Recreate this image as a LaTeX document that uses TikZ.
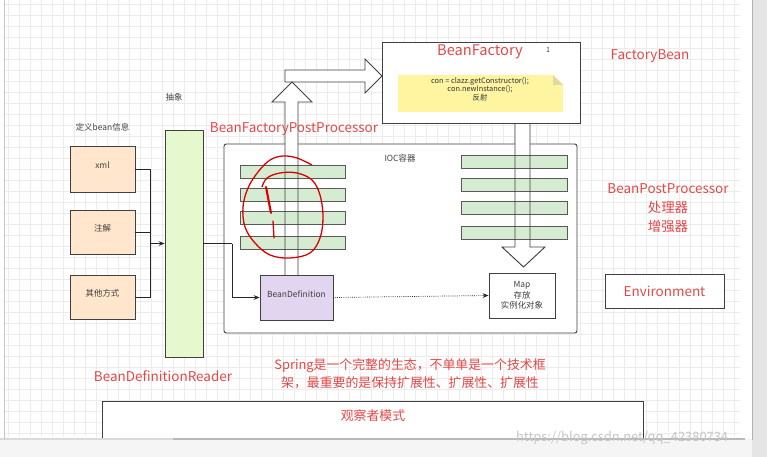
\documentclass[tikz,border=0pt]{standalone}
\usepackage{fontspec}
\setmainfont{Noto Sans CJK SC}
\usetikzlibrary{positioning, arrows.meta, fit}

\definecolor{sourcefill}{RGB}{255,230,204}
\definecolor{readerfill}{RGB}{230,248,206}
\definecolor{barfill}{RGB}{213,236,210}
\definecolor{deffill}{RGB}{225,213,240}
\definecolor{notefill}{RGB}{255,245,160}
\definecolor{notefold}{RGB}{225,218,160}
\definecolor{labelred}{RGB}{228,72,72}

\begin{document}
\begin{tikzpicture}[
    x=0.03cm, y=-0.03cm,    % 1単位 = 画面の1px
    >=Stealth,
    font=\fontsize{7.2}{8.6}\selectfont,
    % 箱の枠線
    box_line/.style={draw=black!75, line width=0.8pt},
    source_box/.style={box_line, fill=sourcefill, inner sep=0pt, text=black!75},
    reader_box/.style={box_line, fill=readerfill, inner sep=0pt},
    bar_box/.style={draw=black!65, line width=0.7pt, fill=barfill, inner sep=0pt},
    plain_box/.style={box_line, fill=white, inner sep=0pt, text=black!75},
    % 白抜きの太い矢印
    hollow_arrow/.style={draw=black!75, line width=0.8pt, line join=miter},
    red_label/.style={text=labelred, font=\fontsize{11.5}{14}\selectfont},
    small_label/.style={text=black!75},
    link/.style={draw=black!85, line width=0.6pt, -{Stealth[length=5pt, width=4pt]}},
    grid_line/.style={draw=gray!15, line width=0.3pt}
]

    % --- 1. 背景とグリッド ---
    \useasboundingbox (0,0) rectangle (767,457);
    \fill [white] (0,0) rectangle (767,457);
    \foreach \gx in {8,19,...,740}
        \draw [grid_line] (\gx,0) -- (\gx,437);
    \foreach \gy in {4,15,...,437}
        \draw [grid_line] (5,\gy) -- (740,\gy);

    % 画面の枠（右のバーと下のスクロールバー）
    \fill [gray!20] (752,0) rectangle (767,457);
    \draw [gray!60, line width=0.6pt] (752,0) -- (752,440);
    \fill [gray!8] (0,439) rectangle (752,457);
    \draw [gray!30, line width=1pt] (0,439) -- (173,439);
    \draw [gray!55, line width=1.6pt] (173,439) -- (745,439);
    \draw [gray!45, line width=0.5pt] (4,0) -- (4,439);

    % --- 2. 左側：定義元とReader ---
    \node [source_box, fit={(70,146) (135,192)}] (xml) {xml};
    \node [source_box, fit={(70,210) (135,254)}] (anno) {注解};
    \node [source_box, fit={(70,275) (135,319)}] (other) {其他方式};
    \node [small_label, above=9pt of xml] (define_label) {定义bean信息};

    \node [reader_box, fit={(165,130) (203,357)}] (reader) {};
    \node [small_label] (abstract_label) at (174,97) {抽象};

    \coordinate (merge) at (150,243.5);
    \draw [draw=black!85, line width=0.6pt] (xml.east) -| (merge);
    \draw [draw=black!85, line width=0.6pt] (anno.east) -| (merge);
    \draw [draw=black!85, line width=0.6pt] (other.east) -| (merge);
    \draw [link] (merge) -- (reader.west);

    % --- 3. IOC容器 ---
    \node [box_line, fill=white, rounded corners=2pt, fit={(224,144) (577,333)}, inner sep=0pt] (ioc) {};
    \node [small_label] (ioc_label) at (400,158) {IOC容器};

    % 矢印の塗り（バーの下に敷く）
    \fill [white] (285,275) -- (285,102) -- (272,102) -- (292,82)
        -- (312,102) -- (298,102) -- (298,275) -- cycle;
    \fill [white] (285,70) -- (365,70) -- (365,59) -- (382,76)
        -- (365,93) -- (365,82) -- (285,82) -- cycle;
    \fill [white] (515,123) -- (515,247) -- (502,247) -- (523.5,267)
        -- (545,247) -- (530,247) -- (530,123) -- cycle;

    % 左右のバー
    \foreach \ytop [count=\i] in {165,188,211,236}
        \node [bar_box, fit={(240,\ytop) (345,\ytop+13.5)}] (left_bar_\i) {};
    \foreach \ytop [count=\i] in {155,178,201,226}
        \node [bar_box, fit={(461,\ytop) (567,\ytop+13.5)}] (right_bar_\i) {};

    % 矢印の輪郭
    \draw [hollow_arrow] (285,275) -- (285,102) -- (272,102) -- (292,82)
        -- (312,102) -- (298,102) -- (298,275);
    \draw [hollow_arrow] (285,82) -- (285,70) -- (365,70) -- (365,59) -- (382,76)
        -- (365,93) -- (365,82) -- cycle;
    \draw [hollow_arrow] (515,123) -- (515,247) -- (502,247) -- (523.5,267)
        -- (545,247) -- (530,247) -- (530,123);

    \node [box_line, fill=deffill, fit={(260,275) (333,320)}, inner sep=0pt, text=black!75] (beandef) {BeanDefinition};
    \node [plain_box, fit={(489,273) (555,318)}] (map) {};
    \node [small_label, align=center, font=\fontsize{7.2}{9}\selectfont] (map_text) at (map.center) {Map\\存放\\实例化对象};

    \coordinate (bend) at (232,243.5);
    \draw [draw=black!85, line width=0.6pt] (reader.east) -- (bend);
    \draw [link] (bend) |- (beandef.west);
    \draw [link, densely dotted] (beandef.east) -- (map.west);

    % --- 4. BeanFactory ---
    \node [plain_box, fit={(382,42) (580,123)}] (factory) {};
    \node [red_label, font=\fontsize{12.5}{15}\selectfont] (factory_title) at (480,52) {BeanFactory};
    \node [small_label, font=\fontsize{6}{7}\selectfont] (factory_no) at (548,50) {1};

    \fill [notefill] (398,75) -- (553,75) -- (563,85) -- (563,112) -- (398,112) -- cycle;
    \fill [notefold] (553,75) -- (553,85) -- (563,85) -- cycle;
    \node [align=center, text=black!80, font=\fontsize{6.3}{7.2}\selectfont] (note_text) at (480,89)
        {con = clazz.getConstructor();\\con.newInstance();\\反射};

    % --- 5. 赤い説明ラベル ---
    \node [red_label] (post_label) at (294,129) {BeanFactoryPostProcessor};
    \node [red_label] (factorybean_label) at (650,56) {FactoryBean};
    \node [red_label, align=center, font=\fontsize{11.5}{16}\selectfont] (bpp_label) at (668,208)
        {BeanPostProcessor\\处理器\\增强器};
    \node [box_line, fill=white, fit={(605,274) (724,308)}, inner sep=0pt] (env) {};
    \node [red_label] (env_label) at (env.center) {Environment};
    \node [red_label] (reader_label) at (163,376) {BeanDefinitionReader};
    \node [red_label, align=center, font=\fontsize{11}{15.5}\selectfont] (spring_label) at (410,374)
        {Spring是一个完整的生态，不单单是一个技术框\\架，最重要的是保持扩展性、扩展性、扩展性};

    % 下の箱（画面下端で切れている）
    \fill [white] (102,401) rectangle (643,438);
    \draw [box_line] (102,438) -- (102,401) -- (643,401) -- (643,438);
    \node [red_label, font=\fontsize{11}{13}\selectfont] (observer_label) at (373,416) {观察者模式};

    % --- 6. 手書きの赤い丸 ---
    \draw [red!85!black, line width=1.1pt, smooth, tension=0.6] plot coordinates {
        (312,165) (297,158) (283,156) (270,160) (258,172) (248,188) (243,207)
        (245,227) (255,243) (270,255) (290,258) (310,253) (320,238) (323,217)
        (320,195) (312,180) (297,173) (280,173) (267,178) (262,187)
    };
    \draw [red!85!black, line width=1.8pt, line cap=round] (266,187) -- (271,213);
    \draw [red!85!black, line width=1.1pt, line cap=round] (273,221) -- (274,238);

    % 透かし文字
    \node [text=gray!45, font=\fontsize{11}{13}\selectfont, anchor=west] (watermark) at (512,438)
        {https://blog.csdn.net/qq\_42380734};

\end{tikzpicture}
\end{document}
